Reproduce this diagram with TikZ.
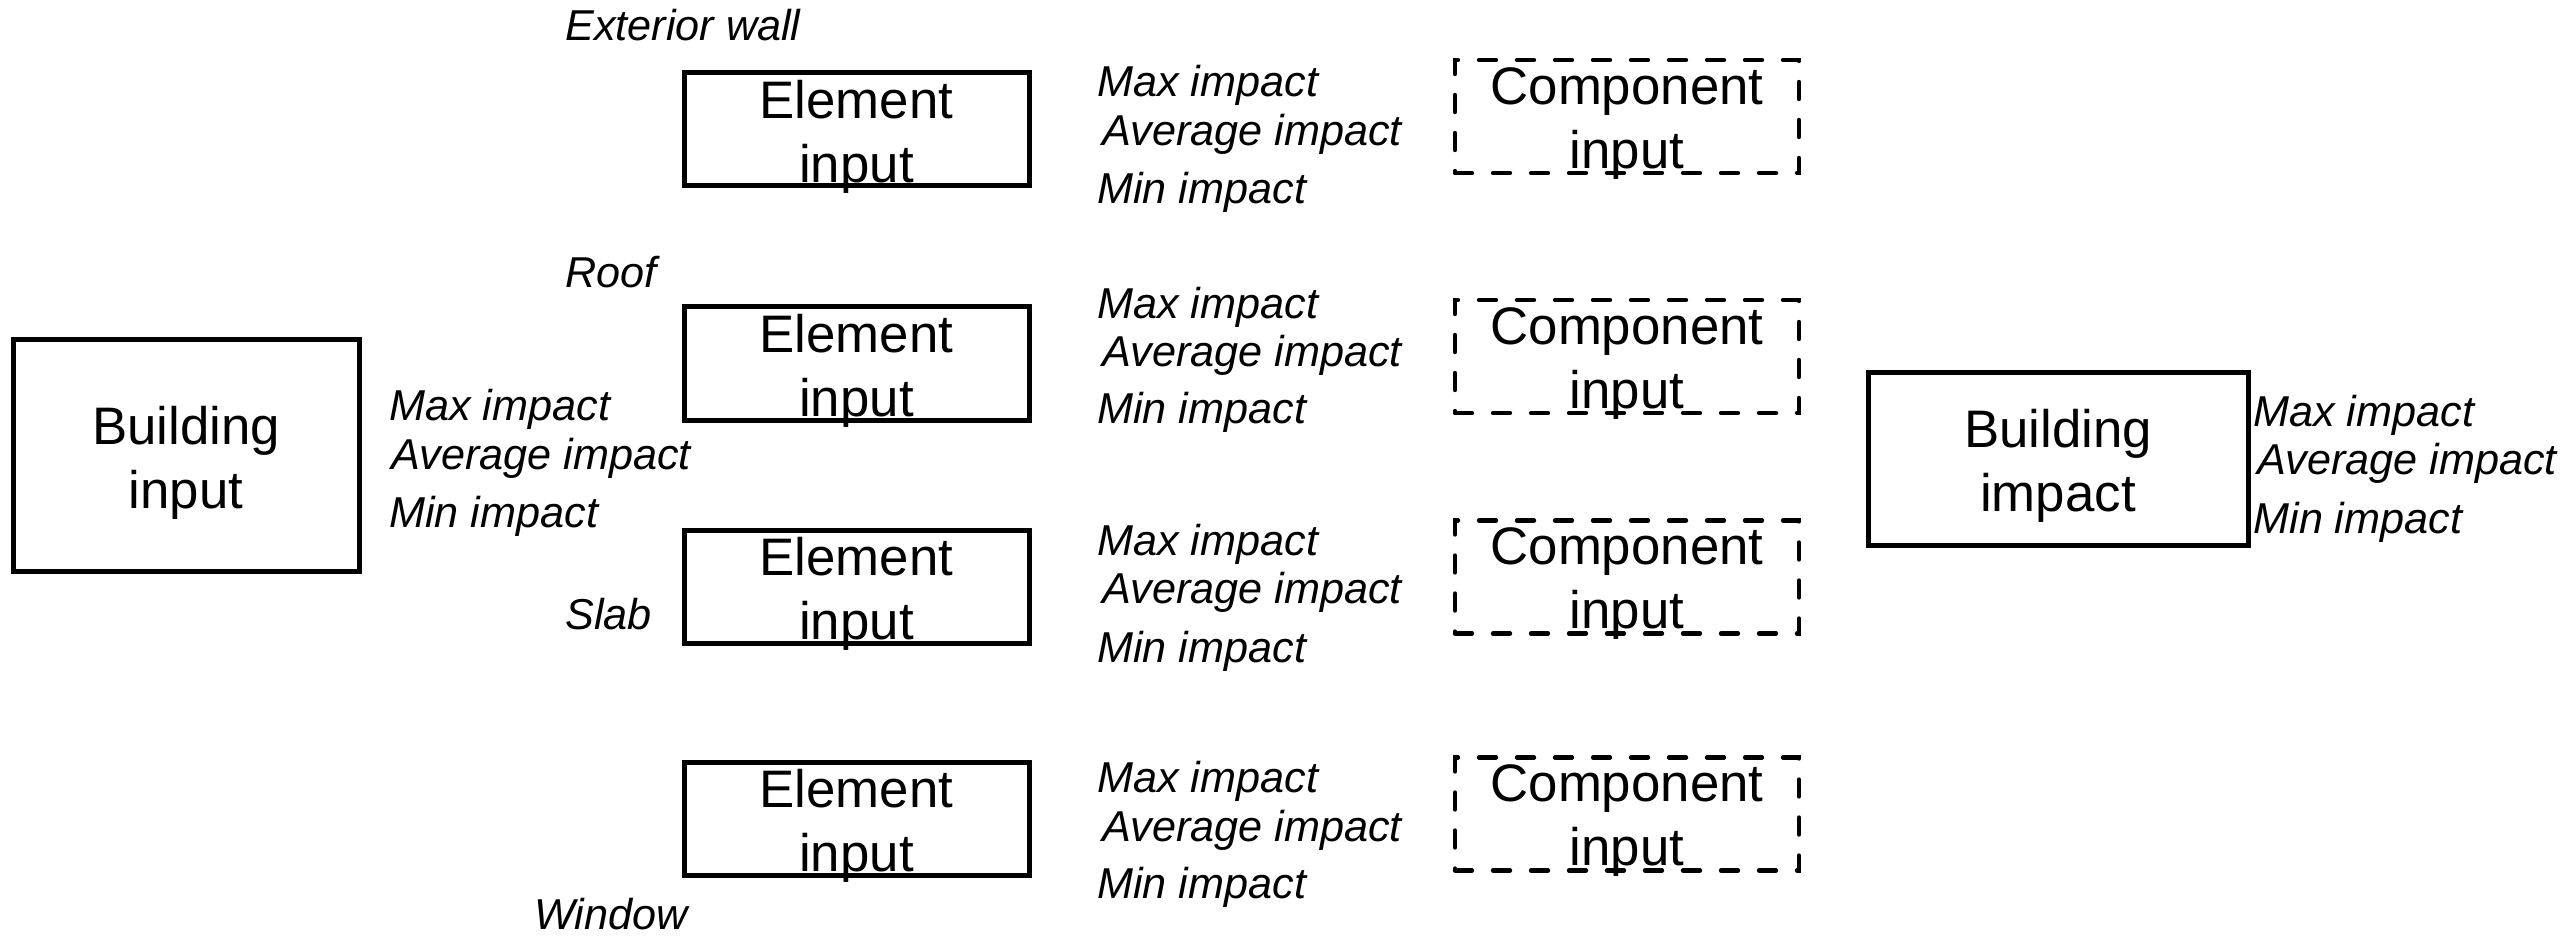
\documentclass[tikz,border=0pt]{standalone}
\usepackage{fontspec}
\setmainfont{Liberation Sans}
\begin{document}
\begin{tikzpicture}[x=0.5pt,y=-0.5pt,
  solidbox/.style={draw,line width=2.5pt,inner sep=0pt,rectangle},
  dashbox/.style={draw,line width=2.2pt,line cap=round,dash pattern=on 8.5pt off 10.5pt,inner sep=0pt,rectangle},
  maintext/.style={inner sep=0pt,align=center,font=\fontsize{26.4}{32}\selectfont},
  lbl/.style={inner sep=0pt,anchor=base west,font=\fontsize{21.6}{25}\selectfont\itshape}]
\useasboundingbox (0,0) rectangle (2560,936);
% Building input
\node[solidbox,minimum width=173pt,minimum height=115.5pt] (bin) at (186,455.5) {};
\node[maintext] (bint) at ([yshift=-3.5pt]bin.center) {Building\\input};
% Element boxes
\foreach \i/\y in {1/129.5,2/363.5,3/587,4/818.5}{
  \node[solidbox,minimum width=172.5pt,minimum height=56.5pt] (e\i) at (856.5,\y) {};
  \node[maintext] (e\i t) at ([yshift=-3.5pt]e\i.center) {Element\\input};
}
% Component boxes
\foreach \i/\y in {1/116.5,2/356.5,3/577,4/814}{
  \node[dashbox,minimum width=172pt,minimum height=56.5pt] (c\i) at (1627,\y) {};
  \node[maintext] (c\i t) at ([yshift=-3.5pt]c\i.center) {Component\\input};
}
% Building impact
\node[solidbox,minimum width=190pt,minimum height=86.5pt] (bim) at (2058,458.5) {};
\node[maintext] (bimt) at ([yshift=-3.5pt]bim.center) {Building\\impact};
% element names
\node[lbl] (ext) at (565,41) {Exterior wall};
\node[lbl] (roof) at (565,288) {Roof};
\node[lbl] (slab) at (565,629) {Slab};
\node[lbl] (win) at (534,929) {Window};
% building input labels
\node[lbl] (binmax) at (389,420) {Max impact};
\node[lbl] (binavg) at (391,469) {Average impact};
\node[lbl] (binmin) at (389,527) {Min impact};
% element labels
\foreach \i/\a/\b/\c in {1/97/146/204,2/319/366/423,3/555/603/662,4/792/841/898}{
  \node[lbl] (m\i max) at (1097,\a) {Max impact};
  \node[lbl] (m\i avg) at (1102,\b) {Average impact};
  \node[lbl] (m\i min) at (1097,\c) {Min impact};
}
% building impact labels
\node[lbl] (bimmax) at (2253,426) {Max impact};
\node[lbl] (bimavg) at (2257,474) {Average impact};
\node[lbl] (bimmin) at (2253,533) {Min impact};
\end{tikzpicture}
\end{document}
